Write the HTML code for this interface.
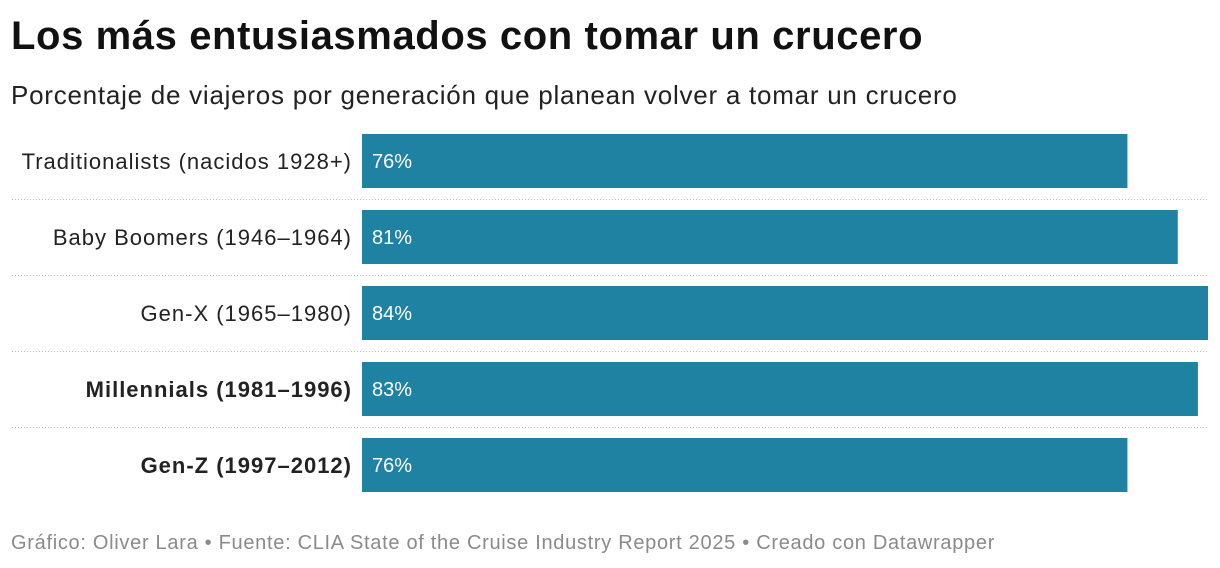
<!DOCTYPE html>
<html><head><meta charset="utf-8">
<style>
body{margin:0;background:#fff;width:1220px;height:568px;overflow:hidden;font-family:"Liberation Sans",Arial,sans-serif;}
#title{position:absolute;left:11px;top:14px;font-size:40px;font-weight:bold;color:#111;letter-spacing:0.6px;white-space:nowrap;}
#sub{position:absolute;left:11px;top:80px;font-size:26px;color:#222;letter-spacing:0.75px;white-space:nowrap;}
#foot{position:absolute;left:11px;top:532px;font-size:20px;color:#8a8a8a;letter-spacing:0.7px;white-space:nowrap;}
svg{position:absolute;left:0;top:0;}
</style></head><body>
<div id="title">Los más entusiasmados con tomar un crucero</div>
<div id="sub">Porcentaje de viajeros por generación que planean volver a tomar un crucero</div>
<svg id="chart" width="1220" height="568"></svg>
<div id="foot">Gráfico: Oliver Lara • Fuente: CLIA State of the Cruise Industry Report 2025 • Creado con Datawrapper</div>
<script>
const categories=["Traditionalists (nacidos 1928+)","Baby Boomers (1946–1964)","Gen-X (1965–1980)","Millennials (1981–1996)","Gen-Z (1997–2012)"];
const values=[76,81,84,83,76];
const boldFlags=[false,false,false,true,true];
const svg=document.getElementById('chart');
const NS='http://www.w3.org/2000/svg';
const x0=362,x1=1208,maxV=Math.max(...values);
const xs=v=>x0+(v/maxV)*(x1-x0);
const yTop=i=>134+i*76;
const bh=54;
categories.forEach((c,i)=>{
  const y=yTop(i);
  const r=document.createElementNS(NS,'rect');
  r.setAttribute('x',x0);r.setAttribute('y',y);r.setAttribute('width',xs(values[i])-x0);r.setAttribute('height',bh);r.setAttribute('fill','#1f82a2');
  
  
  svg.appendChild(r);
  const l=document.createElementNS(NS,'text');
  l.setAttribute('x',352);l.setAttribute('y',y+bh/2+8);l.setAttribute('text-anchor','end');
  l.setAttribute('font-size','22');l.setAttribute('fill','#222');l.setAttribute('letter-spacing','1');
  if(boldFlags[i])l.setAttribute('font-weight','bold');
  l.textContent=c;
  
  
  svg.appendChild(l);
  const t=document.createElementNS(NS,'text');
  t.setAttribute('x',372);t.setAttribute('y',y+bh/2+7);t.setAttribute('font-size','20');t.setAttribute('fill','#fff');
  t.textContent=values[i]+'%';
  
  
  svg.appendChild(t);
  if(i<categories.length-1){
    const ln=document.createElementNS(NS,'line');
    ln.setAttribute('x1',12);ln.setAttribute('x2',1208);ln.setAttribute('y1',y+bh+11.5);ln.setAttribute('y2',y+bh+11.5);
    ln.setAttribute('stroke','#bbb');ln.setAttribute('stroke-dasharray','1,2');ln.setAttribute('stroke-width','1');
    
    
    svg.appendChild(ln);
  }
});
</script>
</body></html>
